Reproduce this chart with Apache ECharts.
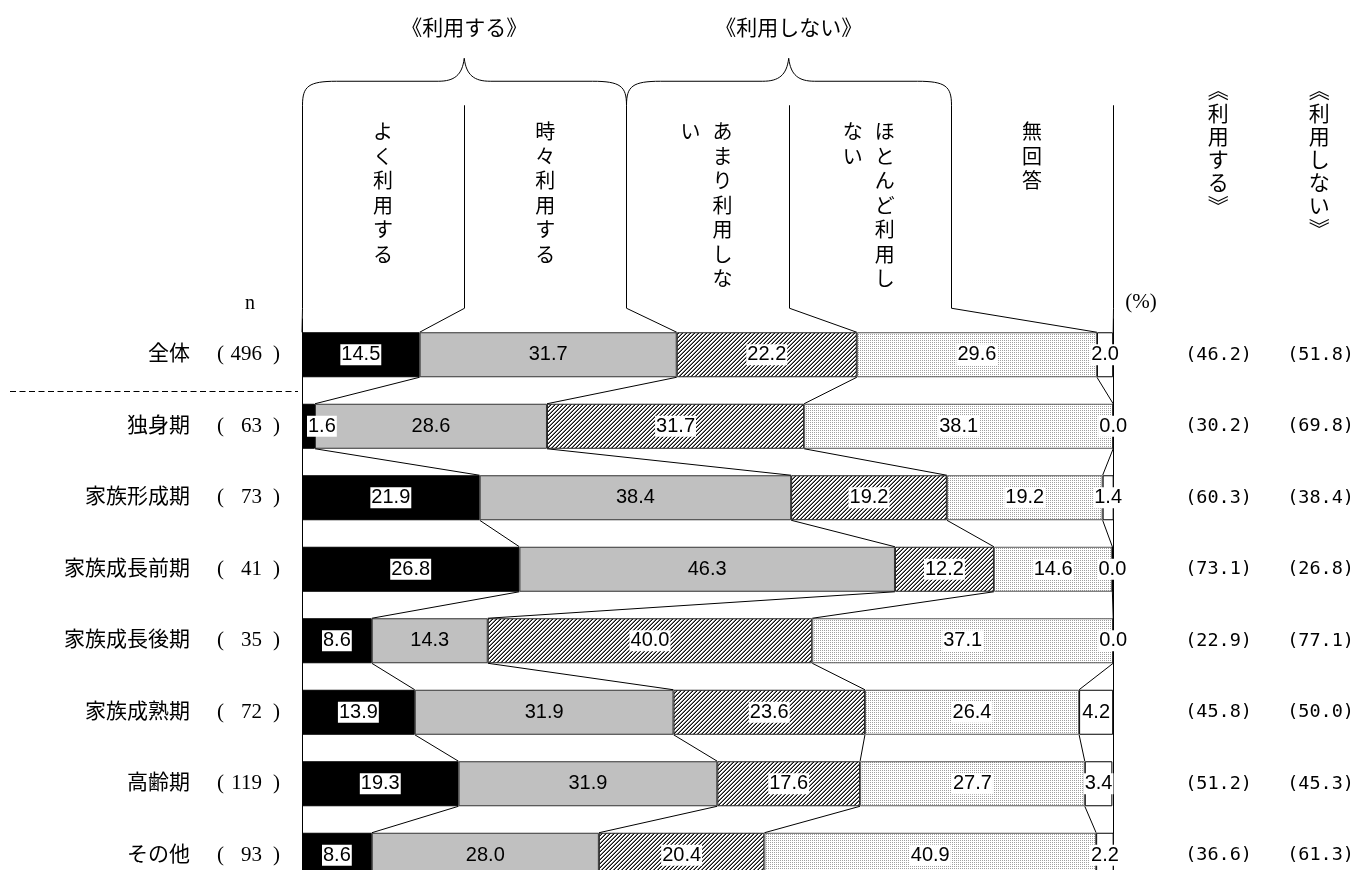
<!DOCTYPE html>
<html>
<head>
<meta charset="utf-8">
<script src="https://cdn.jsdelivr.net/npm/echarts@6/dist/echarts.min.js"></script>
<style>html,body{margin:0;padding:0;background:#fff;overflow:hidden}#c{width:1357px;height:900px}</style>
</head>
<body>
<div id="c"></div>
<script>
const categories = ['全体','独身期','家族形成期','家族成長前期','家族成長後期','家族成熟期','高齢期','その他'];
const nValues = [496, 63, 73, 41, 35, 72, 119, 93];
const seriesNames = ['よく利用する','時々利用する','あまり利用しない','ほとんど利用しない','無回答'];
const oftenUse     = [14.5, 1.6, 21.9, 26.8, 8.6, 13.9, 19.3, 8.6];
const sometimesUse = [31.7, 28.6, 38.4, 46.3, 14.3, 31.9, 31.9, 28.0];
const rarelyUse    = [22.2, 31.7, 19.2, 12.2, 40.0, 23.6, 17.6, 20.4];
const hardlyUse    = [29.6, 38.1, 19.2, 14.6, 37.1, 26.4, 27.7, 40.9];
const noAnswer     = [2.0, 0.0, 1.4, 0.0, 0.0, 4.2, 3.4, 2.2];
const useTotal     = [46.2, 30.2, 60.3, 73.1, 22.9, 45.8, 51.2, 36.6];
const notUseTotal  = [51.8, 69.8, 38.4, 26.8, 77.1, 50.0, 45.3, 61.3];
// header texts: each column listed right-to-left (vertical writing)
const columnHeaders = [['よく利用する'], ['時々利用する'], ['あまり利用しな','い'], ['ほとんど利用し','ない'], ['無回答']];
const groupLabels = ['《利用する》', '《利用しない》'];
const summaryHeaders = ['︽利用する︾', '︽利用しない︾'];

const allSeries = [oftenUse, sometimesUse, rarelyUse, hardlyUse, noAnswer];
const BAR_W = 45;
const CJK = '"Noto Sans CJK JP"';
const SERIF = '"Liberation Serif", "Noto Sans CJK JP"';
const MONO = '"DejaVu Sans Mono", "Liberation Mono", monospace';

function makeTile(size, fn) {
  const c = document.createElement('canvas');
  c.width = c.height = size;
  const g = c.getContext('2d');
  g.fillStyle = '#fff'; g.fillRect(0, 0, size, size);
  for (let x = 0; x < size; x++) for (let y = 0; y < size; y++) {
    const col = fn(x, y);
    if (col) { g.fillStyle = col; g.fillRect(x, y, 1, 1); }
  }
  return c;
}
const hatchTile = makeTile(4, (x, y) => ((x + y) % 4 === 3 ? '#111' : ((x + y) % 4 === 2 ? '#7a7a7a' : null)));
const dotTile = makeTile(2, (x, y) => (x === 0 && y === 0 ? '#a0a0a0' : null));

const fills = ['#000', '#c0c0c0', {image: hatchTile, repeat: 'repeat'}, {image: dotTile, repeat: 'repeat'}, '#fff'];
const borders = ['#000', '#333', '#222', '#555', '#000'];
const labelBg = ['#fff', null, '#fff', '#fff', '#fff'];

// cumulative boundaries per row
const cum = categories.map((_, i) => {
  const arr = [0];
  allSeries.forEach(s => arr.push(arr[arr.length - 1] + s[i]));
  return arr;
});

const barSeries = allSeries.map((vals, si) => ({
  name: seriesNames[si],
  type: 'bar',
  stack: 'total',
  barWidth: BAR_W,
  yAxisIndex: 0,
  itemStyle: {color: fills[si], borderColor: borders[si], borderWidth: 1},
  label: {
    show: true,
    position: 'inside',
    formatter: p => Number(p.value).toFixed(1),
    fontFamily: '"Liberation Sans", Arial, sans-serif',
    fontSize: 20,
    color: '#000',
    backgroundColor: labelBg[si] || 'transparent',
    padding: [1, 1, 0, 1],
    lineHeight: 20
  },
  data: vals.map(v => (si === 0 && v < 5) ? {value: v, label: {position: 'insideLeft', distance: 5}} : v)
}));

function renderDecor(params, api) {
  const X = v => api.coord([v, 0])[0];
  const Y = i => api.coord([0, i])[1];
  const crisp = v => Math.round(v) + 0.5;
  const h = BAR_W / 2;
  const y0 = Y(0) - h;
  const yb = y0 - 24, yt = y0 - 227, yh = y0 - 251, ytip = y0 - 274;
  const ch = [];
  const stroke = {stroke: '#000', lineWidth: 1, fill: 'none'};
  for (let k = 0; k <= 5; k++) {
    const xk = crisp(X(20 * k));
    ch.push({type: 'polyline', shape: {points: [[xk, yt], [xk, yb], [X(cum[0][k]), y0]]}, style: stroke});
  }
  [[0, 20, 40], [40, 60, 80]].forEach(([a, b, c]) => {
    const xa = crisp(X(a)), xb = X(b), xc = crisp(X(c));
    const d = `M${xa},${yt} C${xa},${yh + 5} ${xa + 6},${yh} ${xa + 34},${yh} L${xb - 26},${yh} ` +
      `C${xb - 10},${yh} ${xb - 2},${yh - 6} ${xb},${ytip} C${xb + 2},${yh - 6} ${xb + 10},${yh} ${xb + 26},${yh} ` +
      `L${xc - 34},${yh} C${xc - 6},${yh} ${xc},${yh + 5} ${xc},${yt}`;
    ch.push({type: 'path', shape: {pathData: d}, style: stroke});
  });
  for (let i = 0; i < categories.length - 1; i++) {
    for (let k = 1; k <= 4; k++) {
      ch.push({type: 'line', shape: {x1: X(cum[i][k]), y1: Y(i) + h, x2: X(cum[i + 1][k]), y2: Y(i + 1) - h}, style: stroke});
    }
  }
  groupLabels.forEach((t, gi) => {
    ch.push({type: 'text', style: {text: t, x: X(20 + 40 * gi), y: y0 - 305, align: 'center', verticalAlign: 'middle',
      fill: '#000', font: '21px ' + CJK}});
  });
  columnHeaders.forEach((cols, ci) => {
    const xc = X(20 * ci + 10);
    const offs = cols.length === 1 ? [0] : [15, -17];
    cols.forEach((t, j) => {
      ch.push({type: 'text', style: {text: t.split('').join('\n'), x: xc + offs[j], y: y0 - 213, align: 'center',
        verticalAlign: 'top', fill: '#000', font: '20px ' + CJK, lineHeight: 24.5}});
    });
  });
  summaryHeaders.forEach((t, si) => {
    ch.push({type: 'text', style: {text: t.split('').join('\n'), x: X(100) + 105 + 101 * si, y: y0 - 254, align: 'center',
      verticalAlign: 'top', fill: '#000', font: '21px ' + CJK, lineHeight: 23}});
  });
  ch.push({type: 'text', style: {text: '(%)', x: X(100) + 12, y: y0 - 30, align: 'left', verticalAlign: 'middle', fill: '#000', font: '21px ' + SERIF}});
  ch.push({type: 'text', style: {text: 'n', x: X(0) - 52, y: y0 - 29, align: 'center', verticalAlign: 'middle', fill: '#000', font: '20px ' + SERIF}});
  const ys = crisp((Y(0) + Y(1)) / 2);
  ch.push({type: 'line', shape: {x1: 10, y1: ys, x2: X(0) - 4, y2: ys}, style: {stroke: '#000', lineWidth: 1, lineDash: [6, 3.5]}});
  return {type: 'group', children: ch};
}

const chart = echarts.init(document.getElementById('c'), null, {renderer: 'canvas'});
chart.setOption({
  animation: false,
  backgroundColor: '#fff',
  grid: {left: 302, right: 243, top: 319, height: 572, containLabel: false},
  xAxis: {type: 'value', min: 0, max: 100, show: false},
  yAxis: [
    {
      type: 'category', data: categories, inverse: true,
      axisLine: {show: true, lineStyle: {color: '#000', width: 1}},
      axisTick: {show: false}, splitLine: {show: false},
      axisLabel: {
        margin: 22,
        formatter: (v, i) => `{nm|${v}}{lp|(}{n|${nValues[i]}}{rp|)}`,
        rich: {
          nm: {fontFamily: SERIF, fontSize: 21, color: '#000'},
          lp: {fontFamily: SERIF, fontSize: 21, color: '#000', width: 34, align: 'right'},
          n: {fontFamily: SERIF, fontSize: 21, color: '#000', width: 38, align: 'right'},
          rp: {fontFamily: SERIF, fontSize: 21, color: '#000', width: 18, align: 'right'}
        }
      }
    },
    {
      type: 'category', data: categories, inverse: true, position: 'right',
      axisLine: {show: true, lineStyle: {color: '#000', width: 1}},
      axisTick: {show: false}, splitLine: {show: false},
      axisLabel: {
        margin: 72,
        formatter: (v, i) => `{a|(${useTotal[i].toFixed(1)})}{b|(${notUseTotal[i].toFixed(1)})}`,
        rich: {
          a: {fontFamily: MONO, fontSize: 18.5, color: '#000', width: 102, align: 'left'},
          b: {fontFamily: MONO, fontSize: 18.5, color: '#000', align: 'left'}
        }
      }
    }
  ],
  series: barSeries.concat([{
    type: 'custom', name: 'decor', silent: true, clip: false, z: 10,
    renderItem: renderDecor,
    data: [[0, 0]]
  }])
});
</script>
</body>
</html>
